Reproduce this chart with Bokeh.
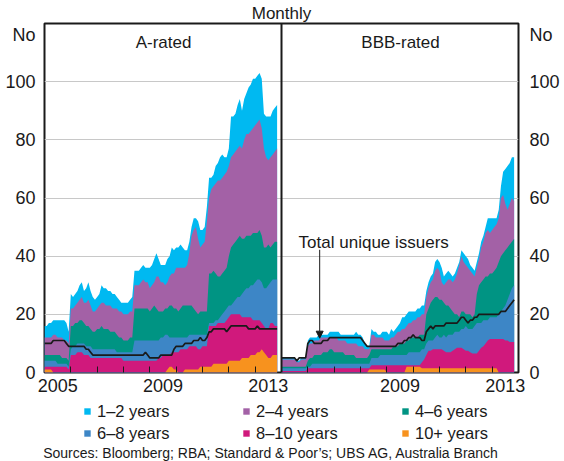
import numpy as np
from bokeh.plotting import figure
from bokeh.layouts import column
from bokeh.models import (FixedTicker, LinearAxis, Range1d, Span, Label, Legend,
                          LegendItem, Arrow, NormalHead, Title)
from bokeh.embed import file_html
from bokeh.resources import INLINE

FONT = "Liberation Sans"
TXT = "#1a1a1a"

# ---------------- data: monthly, Jan 2005 - Nov 2013 ----------------
start_year = 2005
year_labels = ["2005", "2009", "2013"]
bucket_labels = ["1–2 years", "2–4 years", "4–6 years", "6–8 years", "8–10 years", "10+ years"]
colors = ["#00b9f1", "#a361a6", "#009483", "#3d86c6", "#d0197c", "#f7921e"]
source_text = "Sources: Bloomberg; RBA; Standard & Poor’s; UBS AG, Australia Branch"

# A-rated: number of issuers by residual maturity bucket
a_10p = [1,1,1,1,0,0,0,0,0,0,0,0,
         0,0,0,0,0,0,0,0,0,0,0,0,
         0,0,0,0,0,0,0,0,0,0,0,0,
         0,0,0,0,0,0,0,0,0,0,0,0,
         0,0,0,0,0,0,0,0,1,2,2,1,
         1,0,0,0,1,1,1,1,1,1,1,2,
         2,2,2,2,2,3,3,3,3,3,3,3,
         4,4,4,4,4,4,5,5,5,5,6,6,
         6,7,7,8,7,6,5,5,6,6,6]
a_8_10 = [1,1,1,1,2,2,2,2,2,2,2,1,
          6,6,6,7,7,7,6,6,6,5,5,5,
          5,5,5,5,5,5,5,5,5,5,5,5,
          4,4,4,4,4,4,4,4,4,4,4,4,
          4,4,4,4,5,5,6,6,5,4,5,6,
          6,7,8,8,7,7,8,8,8,8,7,6,
          7,7,7,14,14,13,13,14,14,14,14,15,
          15,16,16,16,16,16,14,14,14,14,13,12,
          12,11,11,9,9,9,10,12,11,10,10]
a_6_8 = [2,2,2,2,2,2,1,1,1,1,1,1,
         2,3,3,3,3,3,4,3,3,4,3,3,
         3,3,3,3,3,3,3,3,3,2,2,2,
         3,3,3,3,3,7,7,7,7,7,7,7,
         7,7,7,7,6,7,6,7,7,6,5,5,
         5,5,4,4,4,4,4,4,4,4,5,5,
         4,4,4,1,1,1,2,1,2,3,4,4,
         4,3,4,5,6,6,8,9,10,10,11,12,
         13,14,14,14,13,14,15,14,15,16,16]
a_4_6 = [2,2,2,2,2,2,3,3,2,2,2,2,
         8,7,8,7,8,8,7,7,7,6,6,6,
         7,7,8,7,7,7,6,6,6,6,5,5,
         4,4,4,5,5,11,11,11,11,11,11,11,
         10,11,12,11,10,9,9,9,9,11,11,10,
         10,9,10,11,11,11,10,10,9,8,7,8,
         8,8,8,17,17,18,16,15,14,14,14,14,
         17,20,20,20,20,21,19,18,18,18,17,18,
         17,16,17,16,14,14,14,12,12,13,13]
a_2_4 = [6,6,6,6,7,7,6,6,7,6,6,6,
         6,6,6,7,7,8,7,8,9,8,7,7,
         7,8,8,9,8,8,9,8,8,9,9,9,
         9,9,9,9,9,8,8,8,9,10,9,9,
         8,8,8,11,12,10,10,8,9,10,11,12,
         14,15,14,13,13,14,18,24,27,29,26,22,
         23,24,31,26,29,29,31,33,33,33,33,33,
         31,31,31,31,31,31,31,34,35,35,36,36,
         37,38,38,37,34,31,29,31,31,31,32]
a_1_2 = [4,4,5,5,5,5,6,6,6,7,6,4,
         5,4,4,4,5,5,4,5,6,5,5,4,
         4,4,6,5,6,5,5,5,5,4,4,3,
         4,4,4,4,5,5,5,5,5,5,5,5,
         7,7,8,8,6,6,6,7,8,7,9,8,
         7,7,8,7,6,5,4,3,4,3,6,6,
         5,5,5,7,4,4,6,6,8,8,6,5,
         6,14,13,13,15,16,13,14,14,16,16,17,
         16,16,16,17,12,14,15,14,15,15,15]
a_total = [10,10,10,10,11,11,11,11,11,11,10,9,
           9,9,9,9,9,9,9,8,8,7,6,6,
           6,6,6,6,6,6,6,6,6,6,6,6,
           6,6,6,6,6,6,6,6,6,6,7,6,
           5,5,5,5,5,6,6,6,6,6,6,8,
           9,9,9,9,10,10,10,10,11,11,11,12,
           11,11,12,14,14,15,15,15,15,15,15,14,
           15,16,16,16,16,16,16,16,16,15,15,15,
           15,16,15,15,15,15,15,15,15,15,15]

# BBB-rated
b_10p = [0,0,0,0,0,0,0,0,0,0,0,0,
         0,0,0,0,0,0,0,0,0,0,0,0,
         0,0,0,0,0,0,0,0,0,0,0,0,
         0,0,0,0,1,1,1,1,1,1,1,1,
         0,0,0,0,0,0,0,0,0,2,2,2,
         2,2,2,2,1.5,1.5,1.5,1.5,1.5,1.5,1.5,1.5,
         1.5,1.5,1.5,1.5,1.5,1.5,1.5,1.5,1.5,1.5,1.5,1.5,
         1.5,1.5,1.5,1.5,1.5,1.5,1.5,1.5,1.5,1.5,1.5,1.5,
         1.5,1.5,1.5,0,0,0,0,0,0,0,0]
b_8_10 = [0.5,0.5,0.5,0.5,0.5,0.5,0.5,0.5,0.5,0.5,0.5,0.5,
          1.5,1.5,1.5,1.5,1.5,1.5,1.5,1.5,1.5,1.5,1.5,1.5,
          1.5,1.5,1.5,1.5,1.5,1.5,1.5,1.5,1.5,1.5,1.5,1.5,
          1.5,1.5,1.5,1.5,0.5,1.5,1.5,1.5,1.5,1.5,1.5,1.5,
          2.5,2.5,2.5,2.5,2.5,2.5,2.5,2.5,2.5,0.5,0.5,0.5,
          0.5,0.5,0.5,0.5,2,3,4.5,6,6,6.5,6.5,6.5,
          6.5,6.5,6,5.5,5.5,5.5,6,6.5,7,7,7,6.5,
          6,6,5.5,5,5,5,6,7,7.5,8.5,9.5,10,
          10,10,10,11.5,11.5,11.5,11,11,10.5,10.5,10.5]
b_6_8 = [1,1,1,1,1,1,1,1,1,1,1,1,
         0.5,0.5,1.5,1.5,1.5,1.5,1.5,1.5,1.5,1.5,1.5,1.5,
         1.5,1.5,1.5,1.5,1.5,1.5,1.5,1.5,1.5,1.5,1.5,1.5,
         1.5,1.5,1.5,1.5,1.5,2.5,2.5,2.5,2.5,3.5,3.5,3.5,
         3.5,3.5,3.5,3.5,3.5,3.5,3.5,3.5,3.5,3.5,4.5,4.5,
         4.5,4.5,4.5,4.5,4.5,3.5,4,3.5,3.5,3,4,5,
         4,4,5.5,5,6,6,5.5,6,5.5,5.5,6.5,7,
         8.5,7.5,8,8.5,9.5,10.5,9.5,8.5,9,8,7,7.5,
         7.5,7.5,7.5,8.5,9.5,10.5,12,14,16.5,18.5,19.5]
b_4_6 = [0.5,0.5,0.5,0.5,0.5,0.5,0.5,0.5,0.5,0.5,0.5,0.5,
         2,3,2,3,3,3,3,4,4,4,5,5,
         4,4,4,4,4,3,3,3,3,3,2,2,
         2,2,2,2,3,3,3,3,3,2,2,2,
         2,2,2,3,3,3,4,4,4,5,4,5,
         5,5,5,6,5,5,10,11,13,14,14,13,
         13,13,11,11,10,9,8,6,6,5,6,6,
         4,5,5,4,4,10,13,14,14,15,15,15,
         15,16,17,18,19,19,19,18,17,16,16]
b_2_4 = [2.5,2.5,2.5,2.5,2.5,2.5,2.5,1.5,1.5,2.5,2.5,2.5,
         5,5,5,5,5,5,6,5,5,5,4,4,
         5,5,4,4,4,5,4,4,4,4,5,4,
         4,4,3,3,2,5,5,4,4,4,4,3,
         3,3,4,3,4,5,4,5,5,5,6,5,
         6,6,7,6,7,7,6,7,7,7,9,10,
         10,6,6,8,9,10,10,12,14,18,19,17,
         17,16,15,15,13,9,9,12,13,15,16,14,
         15,15,15,15,20,20,16,13,14,15,13]
b_1_2 = [0.5,0.5,0.5,0.5,0.5,0.5,0.5,0.5,0.5,0.5,0.5,0.5,
         2,2,2,1,1,2,1,1,1,1,2,2,
         2,2,3,2,2,2,3,3,3,3,4,4,
         4,3,2,1,1,2,1,2,1,1,2,3,
         3,2,3,2,2,2,3,4,4,4,4,4,
         3,3,3,3,3,3,2,2,2,2,3,3,
         3,5,3,3,3,2,2,2,2,1,2,3,
         3,3,2,2,2,2,2,2,2,2,4,5,
         4,3,2,3,4,8,12,15,14,14,15]
b_total = [5,5,5,5,5,5,5,4,5,5,5,5,
           10,11,11,10,10,10,10,11,11,11,12,12,
           12,12,12,12,12,12,12,12,12,12,12,12,
           12,11,10,9,9,9,9,9,9,9,9,9,
           9,9,9,9,9,10,10,10,11,11,12,12,
           13,12,12,12,11,11,14,15,16,15,16,16,
           16,16,16,17,17,17,17,17,17,18,19,19,
           18,17,18,18,19,19,20,20,20,20,20,20,
           20,20,20,20,21,21,21,22,23,24,25]

# ---------------- main figure (two panels side by side) ----------------
n = len(a_total)
months = np.arange(n)
x_a = start_year + months / 12.0
x_b = x_a + 9.0  # BBB panel sits to the right of the A panel

p = figure(width=564, height=400, x_range=Range1d(2005, 2023), y_range=Range1d(0, 120),
           output_backend="svg", toolbar_location=None, frame_align=False,
           min_border_left=44, min_border_right=46, min_border_top=23, min_border_bottom=28)
p.background_fill_color = "white"
p.border_fill_color = "white"
p.outline_line_color = TXT
p.outline_line_width = 2
p.xgrid.visible = False
p.ygrid.ticker = FixedTicker(ticks=[20, 40, 60, 80, 100])
p.ygrid.grid_line_color = "#c8c8c8"
p.ygrid.grid_line_width = 1

p.title = Title(text="Monthly", align="center", text_font=FONT, text_font_size="17px",
                text_font_style="normal", text_color=TXT, standoff=2)


def draw_stack(x, series_bottom_up):
    tops = np.cumsum([np.asarray(v, float) for v in series_bottom_up], axis=0)
    cols = colors[::-1]  # bottom-up colours
    for i in reversed(range(len(series_bottom_up))):
        p.varea(x=x, y1=0, y2=tops[i], fill_color=cols[i])


draw_stack(x_a, [a_10p, a_8_10, a_6_8, a_4_6, a_2_4, a_1_2])
draw_stack(x_b, [b_10p, b_8_10, b_6_8, b_4_6, b_2_4, b_1_2])
p.line(x_a, a_total, line_color=TXT, line_width=1.7)
p.line(x_b, b_total, line_color=TXT, line_width=1.7)

p.add_layout(Span(location=2014, dimension="height", line_color=TXT, line_width=2))

# x axis
maj = [2005.5, 2009.5, 2013.5, 2018.5, 2022.5]
mins = [y for y in range(2006, 2023) if y != 2014]
p.xaxis.ticker = FixedTicker(ticks=maj, minor_ticks=mins)
p.xaxis.major_label_overrides = {maj[0]: year_labels[0], maj[1]: year_labels[1], maj[2]: year_labels[2],
                                 maj[3]: year_labels[1], maj[4]: year_labels[2]}
xa = p.xaxis[0]
xa.axis_line_color = None
xa.major_tick_in = 0
xa.major_tick_out = 0
xa.minor_tick_in = 6
xa.minor_tick_out = 0
xa.minor_tick_line_color = TXT
xa.minor_tick_line_width = 1
xa.major_label_standoff = 6
xa.major_label_text_font = FONT
xa.major_label_text_font_size = "18px"
xa.major_label_text_color = TXT

# y axes
yticks = [0, 20, 40, 60, 80, 100, 116]
ya = p.yaxis[0]
ya.ticker = FixedTicker(ticks=yticks)
ya.major_label_overrides = {116: "No"}
yr = LinearAxis(ticker=FixedTicker(ticks=yticks), major_label_overrides={116: "No"})
p.add_layout(yr, "right")
for ax, so in ((ya, 3), (yr, 5)):
    ax.axis_line_color = None
    ax.major_tick_line_color = None
    ax.minor_tick_line_color = None
    ax.major_label_standoff = so
    ax.major_label_text_font = FONT
    ax.major_label_text_font_size = "18px"
    ax.major_label_text_color = TXT


def lab(fig, x, y, t, size, align="center"):
    fig.add_layout(Label(x=x, y=y, text=t, text_align=align, text_baseline="middle",
                         text_font=FONT, text_font_size=size, text_color=TXT))


lab(p, 2009.52, 113.5, "A-rated", "17px")
lab(p, 2018.52, 113.5, "BBB-rated", "17px")
lab(p, 2014.65, 44.7, "Total unique issuers", "17px", "left")

p.add_layout(Arrow(end=NormalHead(size=7, fill_color=TXT, line_color=TXT),
                   x_start=2015.45, y_start=42.2, x_end=2015.45, y_end=11.8,
                   line_color=TXT, line_width=1))

# ---------------- legend + sources strip ----------------
q = figure(width=564, height=61, x_range=Range1d(0, 564), y_range=Range1d(61, 0),
           x_axis_type=None, y_axis_type=None, frame_align=False,
           output_backend="svg", toolbar_location=None,
           min_border_left=0, min_border_right=0, min_border_top=0, min_border_bottom=0)
q.grid.visible = False
q.outline_line_color = None
q.background_fill_color = "white"
q.border_fill_color = "white"

# key swatches: renderers with no visible data, used only for the legend glyphs
nan2 = [np.nan, np.nan]
key_renderers = [q.varea(x=nan2, y1=nan2, y2=nan2, fill_color=c) for c in colors]
items = [LegendItem(label=bucket_labels[k], renderers=[key_renderers[k]]) for k in range(6)]
leg = Legend(items=items, location=(83, 18), orientation="horizontal", ncols=3,
             glyph_width=8, glyph_height=8, label_standoff=6, label_width=143,
             label_height=20, spacing=2, padding=0, margin=0,
             border_line_color=None, background_fill_alpha=0,
             label_text_font=FONT, label_text_font_size="16.5px", label_text_color=TXT)
q.add_layout(leg, "center")
lab(q, 42.7, 52.5, source_text, "14px", "left")

open("out.html", "w").write(file_html(column(p, q, spacing=0), INLINE))
